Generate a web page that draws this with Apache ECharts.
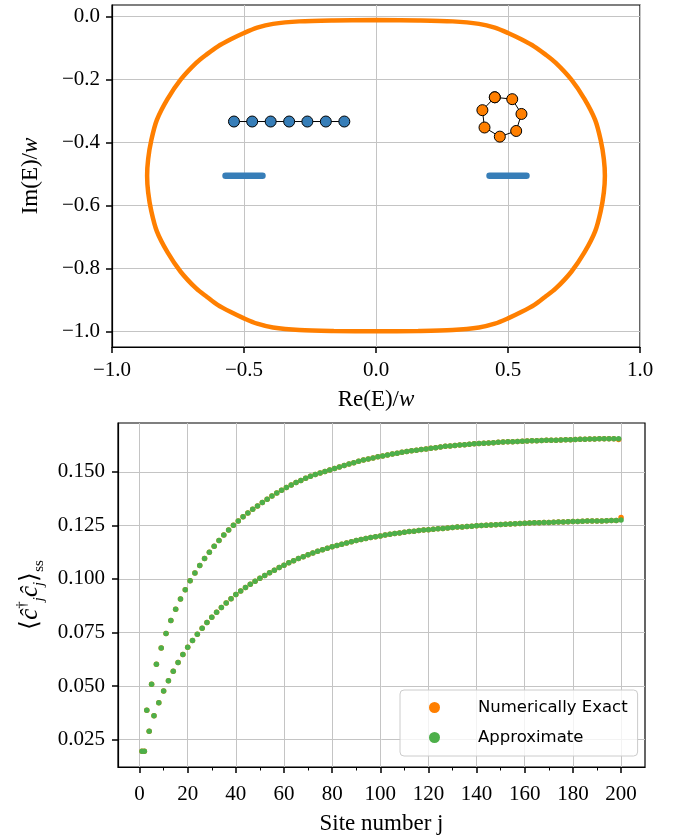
<!DOCTYPE html>
<html>
<head>
    <meta charset="utf-8">
    <script src="https://cdn.jsdelivr.net/npm/echarts@6/dist/echarts.min.js"></script>
    <style>
        body { margin: 0; background: #fff; }
    </style>
</head>
<body>
<div id="main" style="width: 680px;height:838px;"></div>
<script type="text/javascript">
// ---- top panel: spectrum in the complex plane ----
// orange loop (closed)
var loopRe = [0.00, -0.16, -0.29, -0.39, -0.45, -0.50, -0.55, -0.60, -0.64, -0.68, -0.74, -0.79, -0.83, -0.851, -0.863, -0.867,
    -0.863, -0.851, -0.83, -0.79, -0.74, -0.68, -0.64, -0.60, -0.55, -0.50, -0.45, -0.39, -0.29, -0.16, 0.00,
    0.16, 0.29, 0.39, 0.45, 0.50, 0.55, 0.60, 0.64, 0.68, 0.74, 0.79, 0.83, 0.851, 0.863, 0.867,
    0.863, 0.851, 0.83, 0.79, 0.74, 0.68, 0.64, 0.60, 0.55, 0.50, 0.45, 0.39, 0.29, 0.16, 0.00];
var loopIm = [-0.011, -0.012, -0.015, -0.023, -0.035, -0.052, -0.072, -0.095, -0.119, -0.146, -0.200, -0.262, -0.328, -0.392, -0.452, -0.505,
    -0.558, -0.618, -0.682, -0.748, -0.810, -0.864, -0.890, -0.915, -0.938, -0.958, -0.975, -0.987, -0.995, -0.998, -0.999,
    -0.998, -0.995, -0.987, -0.975, -0.958, -0.938, -0.915, -0.890, -0.864, -0.810, -0.748, -0.682, -0.618, -0.558, -0.505,
    -0.452, -0.392, -0.328, -0.262, -0.200, -0.146, -0.119, -0.095, -0.072, -0.052, -0.035, -0.023, -0.015, -0.012, -0.011];
// blue bands at Im = -0.505
var bandLeftRe = [-0.57, -0.43];
var bandRightRe = [0.43, 0.57];
var bandIm = -0.505;
// blue chain of markers
var chainRe = [-0.538, -0.469, -0.399, -0.329, -0.260, -0.190, -0.120];
var chainIm = [-0.333, -0.333, -0.333, -0.333, -0.333, -0.333, -0.333];
// orange ring of markers
var ringRe = [0.450, 0.516, 0.551, 0.531, 0.469, 0.411, 0.403, 0.450];
var ringIm = [-0.256, -0.262, -0.309, -0.363, -0.381, -0.352, -0.297, -0.256];

// ---- bottom panel: occupation per site ----
// odd sites j = 1,3,...,199
var oddSiteVals = [
    0.0195, 0.0387, 0.0508, 0.0602, 0.0678, 0.0745, 0.0806, 0.0858, 0.0906, 0.0950,
    0.0991, 0.1028, 0.1063, 0.1095, 0.1125, 0.1153, 0.1180, 0.1205, 0.1229, 0.1251,
    0.1271, 0.1290, 0.1308, 0.1325, 0.1341, 0.1357, 0.1372, 0.1387, 0.1401, 0.1414,
    0.1427, 0.1439, 0.1450, 0.1460, 0.1470, 0.1479, 0.1487, 0.1495, 0.1502, 0.1509,
    0.1515, 0.1523, 0.1530, 0.1537, 0.1543, 0.1549, 0.1555, 0.1560, 0.1565, 0.1570,
    0.1574, 0.1579, 0.1583, 0.1587, 0.1591, 0.1595, 0.1598, 0.1601, 0.1604, 0.1607,
    0.1610, 0.1613, 0.1616, 0.1619, 0.1621, 0.1623, 0.1625, 0.1627, 0.1629, 0.1631,
    0.1632, 0.1634, 0.1635, 0.1636, 0.1638, 0.1639, 0.1640, 0.1641, 0.1642, 0.1643,
    0.1644, 0.1645, 0.1645, 0.1646, 0.1647, 0.1648, 0.1648, 0.1649, 0.1650, 0.1650,
    0.1651, 0.1652, 0.1652, 0.1653, 0.1653, 0.1654, 0.1654, 0.1654, 0.1655, 0.1655];
// even sites j = 2,4,...,200
var evenSiteVals = [
    0.0195, 0.0289, 0.0361, 0.0422, 0.0477, 0.0525, 0.0569, 0.0610, 0.0647, 0.0681,
    0.0713, 0.0742, 0.0770, 0.0797, 0.0821, 0.0845, 0.0867, 0.0888, 0.0908, 0.0927,
    0.0944, 0.0960, 0.0975, 0.0989, 0.1003, 0.1016, 0.1029, 0.1041, 0.1053, 0.1064,
    0.1075, 0.1085, 0.1095, 0.1104, 0.1113, 0.1121, 0.1129, 0.1136, 0.1143, 0.1150,
    0.1156, 0.1162, 0.1168, 0.1174, 0.1179, 0.1184, 0.1189, 0.1193, 0.1197, 0.1201,
    0.1205, 0.1209, 0.1212, 0.1215, 0.1218, 0.1221, 0.1223, 0.1226, 0.1228, 0.1230,
    0.1232, 0.1234, 0.1236, 0.1238, 0.1240, 0.1242, 0.1243, 0.1245, 0.1246, 0.1248,
    0.1249, 0.1251, 0.1252, 0.1253, 0.1254, 0.1255, 0.1257, 0.1258, 0.1259, 0.1260,
    0.1261, 0.1262, 0.1262, 0.1263, 0.1264, 0.1265, 0.1266, 0.1266, 0.1267, 0.1268,
    0.1268, 0.1269, 0.1270, 0.1270, 0.1271, 0.1271, 0.1272, 0.1273, 0.1273, 0.1275];
// exact result only shows apart from the approximation at the last two sites (199, 200)
var exactLastVals = [0.1651, 0.1287];

var topYTicks = [0.0, -0.2, -0.4, -0.6, -0.8, -1.0];
var botXTicks = [0, 20, 40, 60, 80, 100, 120, 140, 160, 180, 200];
var botXMinor = [10, 30, 50, 70, 90, 110, 130, 150, 170, 190];
var botYTicks = [0.025, 0.050, 0.075, 0.100, 0.125, 0.150];

var ORANGE = '#ff7f00', BLUE = '#377eb8', GREEN = '#4daf4a';
var SERIF = 'Liberation Serif';
var SANS = 'DejaVu Sans';

function zip(a, b) {
    return a.map(function (v, i) { return [v, Array.isArray(b) ? b[i] : b]; });
}
function minus(v, d) {
    var s = Math.abs(v).toFixed(d);
    return (v < -1e-9 ? '\u2212' : '') + s;
}

var approxData = [], exactData = [];
for (var k = 0; k < oddSiteVals.length; k++) {
    approxData.push([2 * k + 1, oddSiteVals[k]]);
    approxData.push([2 * k + 2, evenSiteVals[k]]);
}
exactData = approxData.map(function (p) { return p.slice(); });
exactData[exactData.length - 2][1] = exactLastVals[0];
exactData[exactData.length - 1][1] = exactLastVals[1];

var myChart = echarts.init(document.getElementById('main'));

var axisBase = {
    axisLine: { show: true, onZero: false, lineStyle: { color: '#000', width: 1.2 } },
    axisTick: { show: true, inside: false, length: 6, lineStyle: { color: '#000', width: 1.5 } },
    splitLine: { show: true, lineStyle: { color: '#c4c4c4', width: 1 } },
    axisLabel: { color: '#000', fontFamily: SERIF, fontSize: 21 },
    nameLocation: 'middle',
    nameTextStyle: { color: '#000', fontFamily: SERIF, fontSize: 23 }
};
function ax(extra) {
    return echarts.util.merge(echarts.util.clone(axisBase), extra, true);
}
var nameRich = {
    r: { fontFamily: SERIF, fontSize: 23, color: '#000' },
    i: { fontFamily: SERIF, fontSize: 23, fontStyle: 'italic', color: '#000' }
};

var option = {
    animation: false,
    backgroundColor: '#fff',
    grid: [
        { left: 112, top: 5, width: 528, height: 342, show: true, borderColor: '#000', borderWidth: 1.2 },
        { left: 118, top: 423, width: 527, height: 344, show: true, borderColor: '#000', borderWidth: 1.2 }
    ],
    xAxis: [
        ax({
            type: 'value', gridIndex: 0, min: -1, max: 1, interval: 0.5,
            axisLabel: { margin: 13, formatter: function (v) { return minus(v, 1); } },
            name: '{r|Re(E)/}{i|w}', nameGap: 41,
            nameTextStyle: { rich: nameRich }
        }),
        ax({
            type: 'value', gridIndex: 1, position: 'bottom', min: -8.95, max: 209.95, minInterval: 20, maxInterval: 20, splitNumber: 10,
            axisTick: { customValues: botXTicks },
            axisLabel: { margin: 17, customValues: botXTicks },
            name: 'Site number j', nameGap: 45
        }),
        ax({
            type: 'value', gridIndex: 1, position: 'bottom', offset: 0, min: -8.95, max: 209.95, minInterval: 20, maxInterval: 20, splitNumber: 10,
            axisLine: { show: false }, splitLine: { show: false }, axisLabel: { show: false },
            axisTick: { customValues: botXMinor, length: 3.5, lineStyle: { width: 1 } }
        })
    ],
    yAxis: [
        ax({
            type: 'value', gridIndex: 0, min: -1.049, max: 0.037, minInterval: 0.2, maxInterval: 0.2, splitNumber: 5,
            axisTick: { customValues: topYTicks },
            axisLabel: { margin: 12, customValues: topYTicks, formatter: function (v) { return minus(v, 1); } },
            name: '{r|Im(E)/}{i|w}', nameGap: 70,
            nameTextStyle: { rich: nameRich }
        }),
        ax({
            type: 'value', gridIndex: 1, min: 0.0122, max: 0.1728, minInterval: 0.025, maxInterval: 0.025, splitNumber: 6,
            axisTick: { customValues: botYTicks },
            axisLabel: { margin: 13, customValues: botYTicks, formatter: function (v) { return v.toFixed(3); } },
            name: '{t|\u27e8}{c|\u0109}{sup|\u2020}{sub|j}{c|\u0109}{sub|j}{t|\u27e9}{ss|ss}', nameGap: 70,
            nameTextStyle: { rich: {
                t: { fontFamily: SERIF, fontSize: 25, color: '#000', lineHeight: 32 },
                c: { fontFamily: SERIF, fontSize: 25, fontStyle: 'italic', color: '#000', lineHeight: 32 },
                sup: { fontFamily: SERIF, fontSize: 15, color: '#000', verticalAlign: 'top', lineHeight: 32 },
                sub: { fontFamily: SERIF, fontSize: 15, fontStyle: 'italic', color: '#000', verticalAlign: 'bottom', lineHeight: 32 },
                ss: { fontFamily: SERIF, fontSize: 15, color: '#000', verticalAlign: 'bottom', lineHeight: 32 } } }
        })
    ],
    legend: {
        left: 400, top: 690, orient: 'vertical',
        data: [{ name: 'Numerically Exact', icon: 'circle' }, { name: 'Approximate', icon: 'circle' }],
        itemWidth: 77, itemHeight: 11, itemGap: 13,
        padding: [9, 10, 10, 29],
        backgroundColor: 'rgba(255,255,255,0.8)', borderColor: '#cccccc', borderWidth: 1, borderRadius: 4,
        textStyle: { fontFamily: SANS, fontSize: 16.5, color: '#000' }
    },
    series: [
        {
            type: 'line', xAxisIndex: 0, yAxisIndex: 0, data: zip(loopRe, loopIm),
            smooth: 0.3, showSymbol: false, lineStyle: { color: ORANGE, width: 4.5 }, z: 2
        },
        {
            type: 'line', xAxisIndex: 0, yAxisIndex: 0, data: zip(bandLeftRe, bandIm),
            showSymbol: false, lineStyle: { color: BLUE, width: 6.5, cap: 'round' }, z: 3
        },
        {
            type: 'line', xAxisIndex: 0, yAxisIndex: 0, data: zip(bandRightRe, bandIm),
            showSymbol: false, lineStyle: { color: BLUE, width: 6.5, cap: 'round' }, z: 3
        },
        {
            type: 'line', xAxisIndex: 0, yAxisIndex: 0, data: zip(chainRe, chainIm),
            symbol: 'circle', symbolSize: 11, showAllSymbol: true,
            lineStyle: { color: '#000', width: 1 },
            itemStyle: { color: BLUE, borderColor: '#000', borderWidth: 1 }, z: 4
        },
        {
            type: 'line', xAxisIndex: 0, yAxisIndex: 0, data: zip(ringRe, ringIm),
            symbol: 'circle', symbolSize: 11, showAllSymbol: true,
            lineStyle: { color: '#000', width: 1 },
            itemStyle: { color: ORANGE, borderColor: '#000', borderWidth: 1 }, z: 4
        },
        {
            name: 'Numerically Exact', type: 'scatter', xAxisIndex: 1, yAxisIndex: 1,
            data: exactData, symbolSize: 5.5, itemStyle: { color: ORANGE, opacity: 1 }, z: 3
        },
        {
            name: 'Approximate', type: 'scatter', xAxisIndex: 1, yAxisIndex: 1,
            data: approxData, symbolSize: 5.5, itemStyle: { color: GREEN, opacity: 1 }, z: 4
        }
    ]
};
myChart.setOption(option);
</script>
</body>
</html>
